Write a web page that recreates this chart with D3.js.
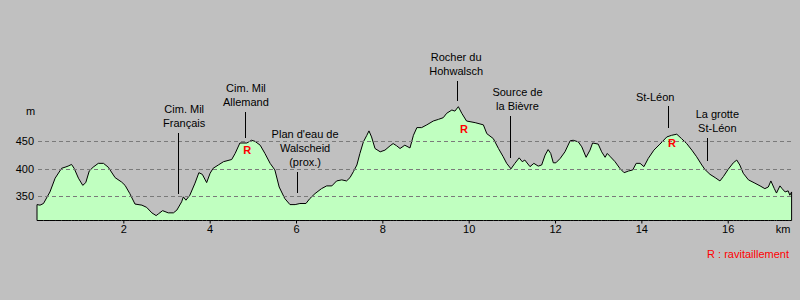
<!DOCTYPE html>
<html>
<head>
<meta charset="utf-8">
<script src="https://cdn.jsdelivr.net/npm/d3@7"></script>
<style>
  body { margin: 0; background: #c0c0c0; }
  svg { display: block; font-family: "Liberation Sans", Arial, sans-serif; }
</style>
</head>
<body>
<div id="svgzone"></div>
<script>
// distance along the route (km)
let km = [0, 0.07, 0.15, 0.30, 0.42, 0.57, 0.65, 0.72, 0.80, 0.86, 0.96, 1.06, 1.13, 1.21, 1.30, 1.42, 1.54, 1.65, 1.81, 1.96,
  2.04, 2.15, 2.27, 2.43, 2.54, 2.66, 2.76, 2.81, 2.91, 3.04, 3.16, 3.24, 3.35, 3.39, 3.45, 3.54, 3.66, 3.75, 3.83, 3.93,
  4.01, 4.08, 4.20, 4.32, 4.51, 4.59, 4.70, 4.86, 4.97, 5.05, 5.17, 5.28, 5.40, 5.51, 5.61, 5.74, 5.86, 5.98, 6.09, 6.23,
  6.32, 6.44, 6.59, 6.71, 6.83, 6.94, 7.06, 7.17, 7.25, 7.33, 7.41, 7.48, 7.56, 7.64, 7.69, 7.75, 7.83, 7.95, 8.06, 8.18,
  8.25, 8.33, 8.41, 8.52, 8.64, 8.72, 8.80, 8.91, 9.03, 9.18, 9.30, 9.41, 9.49, 9.61, 9.68, 9.76, 9.84, 9.95, 10.15, 10.34,
  10.42, 10.57, 10.69, 10.80, 10.88, 10.98, 11.07, 11.17, 11.24, 11.30, 11.42, 11.51, 11.61, 11.69, 11.77, 11.84, 11.90, 11.96, 12.02, 12.12,
  12.23, 12.35, 12.42, 12.54, 12.62, 12.72, 12.81, 12.87, 13.00, 13.08, 13.16, 13.21, 13.27, 13.39, 13.50, 13.60, 13.70, 13.80, 13.88, 13.97,
  14.06, 14.16, 14.29, 14.43, 14.59, 14.70, 14.82, 14.93, 15.05, 15.17, 15.28, 15.40, 15.47, 15.59, 15.71, 15.82, 15.90, 16.01, 16.13, 16.21,
  16.28, 16.36, 16.48, 16.63, 16.75, 16.86, 16.94, 17.00, 17.08, 17.13, 17.21, 17.26, 17.33, 17.40, 17.44, 17.48];

// altitude (m)
let altitude = [335, 334, 337, 358, 383, 401, 403, 405, 408, 401, 383, 370, 375, 396, 403, 410, 410, 403, 384, 376,
  370, 355, 336, 334, 330, 320, 315, 318, 324, 320, 320, 325, 340, 349, 343, 352, 374, 393, 390, 375,
  392, 401, 407, 413, 417, 428, 447, 447, 452, 450, 443, 428, 410, 398, 367, 346, 335, 335, 337, 337,
  346, 355, 364, 369, 369, 378, 380, 378, 384, 395, 407, 428, 449, 461, 469, 458, 437, 431, 434, 442,
  446, 442, 437, 443, 438, 461, 475, 475, 480, 487, 490, 493, 501, 507, 505, 513, 501, 487, 484, 480,
  464, 455, 437, 422, 410, 400, 410, 420, 413, 416, 404, 410, 405, 407, 425, 435, 428, 411, 411, 419,
  431, 451, 452, 449, 440, 421, 434, 447, 445, 431, 421, 428, 423, 413, 401, 393, 396, 398, 410, 410,
  404, 419, 434, 445, 458, 461, 463, 455, 446, 434, 422, 407, 399, 390, 384, 378, 386, 399, 411, 416,
  407, 392, 380, 374, 369, 364, 367, 378, 364, 356, 369, 364, 358, 360, 352, 358];

let xTicks = [2, 4, 6, 8, 10, 12, 14, 16];
let yTicks = [350, 400, 450];

// landmarks: label lines, km of the leader, km of the label, leader top / bottom (m)
let landmarks = [
  { text: ["Cim. Mil", "Français"], km: 3.27, labelKm: 3.41, top: 466, bottom: 354 },
  { text: ["Cim. Mil", "Allemand"], km: 4.82, labelKm: 4.84, top: 504, bottom: 456 },
  { text: ["Plan d'eau de", "Walscheid", "(prox.)"], km: 6.03, labelKm: 6.21, top: 395, bottom: 357 },
  { text: ["Rocher du", "Hohwalsch"], km: 9.72, labelKm: 9.71, top: 560, bottom: 524 },
  { text: ["Source de", "la Bièvre"], km: 10.96, labelKm: 11.13, top: 496, bottom: 419 },
  { text: ["St-Léon"], km: 14.62, labelKm: 14.32, top: 514, bottom: 475 },
  { text: ["La grotte", "St-Léon"], km: 15.53, labelKm: 15.76, top: 457, bottom: 414 }
];

// ravitaillement points (km, m)
let supplyKm = [4.87, 9.89, 14.71];
let supplyAlt = [434, 472, 446];

let svg = d3.select("#svgzone")
  .append("svg")
  .attr("width", 800)
  .attr("height", 300);

let x = d3.scaleLinear()
  .domain([0, 17.48])
  .range([37, 791.6]);

let y = d3.scaleLinear()
  .domain([307, 550])
  .range([220, 86.35]);

let profile = km.map(function (d, i) { return [d, altitude[i]]; });

// the profile, filled and outlined
let area = d3.area()
  .x(function (d) { return x(d[0]); })
  .y0(y(307) + 0.5)
  .y1(function (d) { return y(d[1]); });

svg.append("path")
  .datum(profile)
  .attr("d", area)
  .style("fill", "#c0ffc0")
  .style("stroke", "black")
  .style("stroke-width", 1);

// dashed gridlines
svg.selectAll("grid")
  .data(yTicks)
  .enter()
  .append("line")
  .attr("x1", x(0) + 1)
  .attr("x2", x(17.48) - 1)
  .attr("y1", function (d) { return Math.round(y(d)) + 0.5; })
  .attr("y2", function (d) { return Math.round(y(d)) + 0.5; })
  .style("stroke", "#7a7a7a")
  .style("stroke-dasharray", "4,3")
  .style("shape-rendering", "crispEdges");

// x axis
let xAxis = svg.append("g")
  .attr("transform", "translate(0,220.5)")
  .call(d3.axisBottom(x).tickValues(xTicks).tickSize(3).tickSizeOuter(0).tickPadding(2));
xAxis.select(".domain").remove();
xAxis.selectAll("text").style("font-size", "11px").style("font-family", "Liberation Sans, Arial").attr("fill", "black");

svg.append("text")
  .attr("x", 783)
  .attr("y", 229)
  .attr("dy", "0.35em")
  .attr("text-anchor", "middle")
  .style("font-size", "11px")
  .text("km");

// y axis labels
let yAxis = svg.append("g")
  .attr("transform", "translate(37,0)")
  .call(d3.axisLeft(y).tickValues(yTicks).tickSize(0).tickPadding(3));
yAxis.select(".domain").remove();
yAxis.selectAll("text").style("font-size", "11px").style("font-family", "Liberation Sans, Arial").attr("fill", "black");

svg.append("text")
  .attr("x", 30.5)
  .attr("y", 111)
  .attr("dy", "0.35em")
  .attr("text-anchor", "middle")
  .style("font-size", "11px")
  .text("m");

// landmark leaders and labels
landmarks.forEach(function (a) {
  let lx = Math.round(x(a.km)) + 0.5;
  let top = y(a.top);
  svg.append("line")
    .attr("x1", lx).attr("x2", lx)
    .attr("y1", top).attr("y2", y(a.bottom))
    .style("stroke", "black")
    .style("shape-rendering", "crispEdges");
  let n = a.text.length;
  a.text.forEach(function (t, i) {
    svg.append("text")
      .attr("x", x(a.labelKm))
      .attr("y", top - 9.5 - (n - 1 - i) * 14)
      .attr("dy", "0.35em")
      .attr("text-anchor", "middle")
      .style("font-size", "11px")
      .text(t);
  });
});

// R markers
svg.selectAll("supply")
  .data(supplyKm)
  .enter()
  .append("text")
  .attr("x", function (d) { return x(d); })
  .attr("y", function (d, i) { return y(supplyAlt[i]); })
  .attr("dy", "0.35em")
  .attr("text-anchor", "middle")
  .style("font-size", "11px")
  .style("font-weight", "bold")
  .style("fill", "red")
  .text("R");

svg.append("text")
  .attr("x", 789)
  .attr("y", 254)
  .attr("dy", "0.35em")
  .attr("text-anchor", "end")
  .style("font-size", "11px")
  .style("fill", "red")
  .text("R : ravitaillement");
</script>
</body>
</html>
